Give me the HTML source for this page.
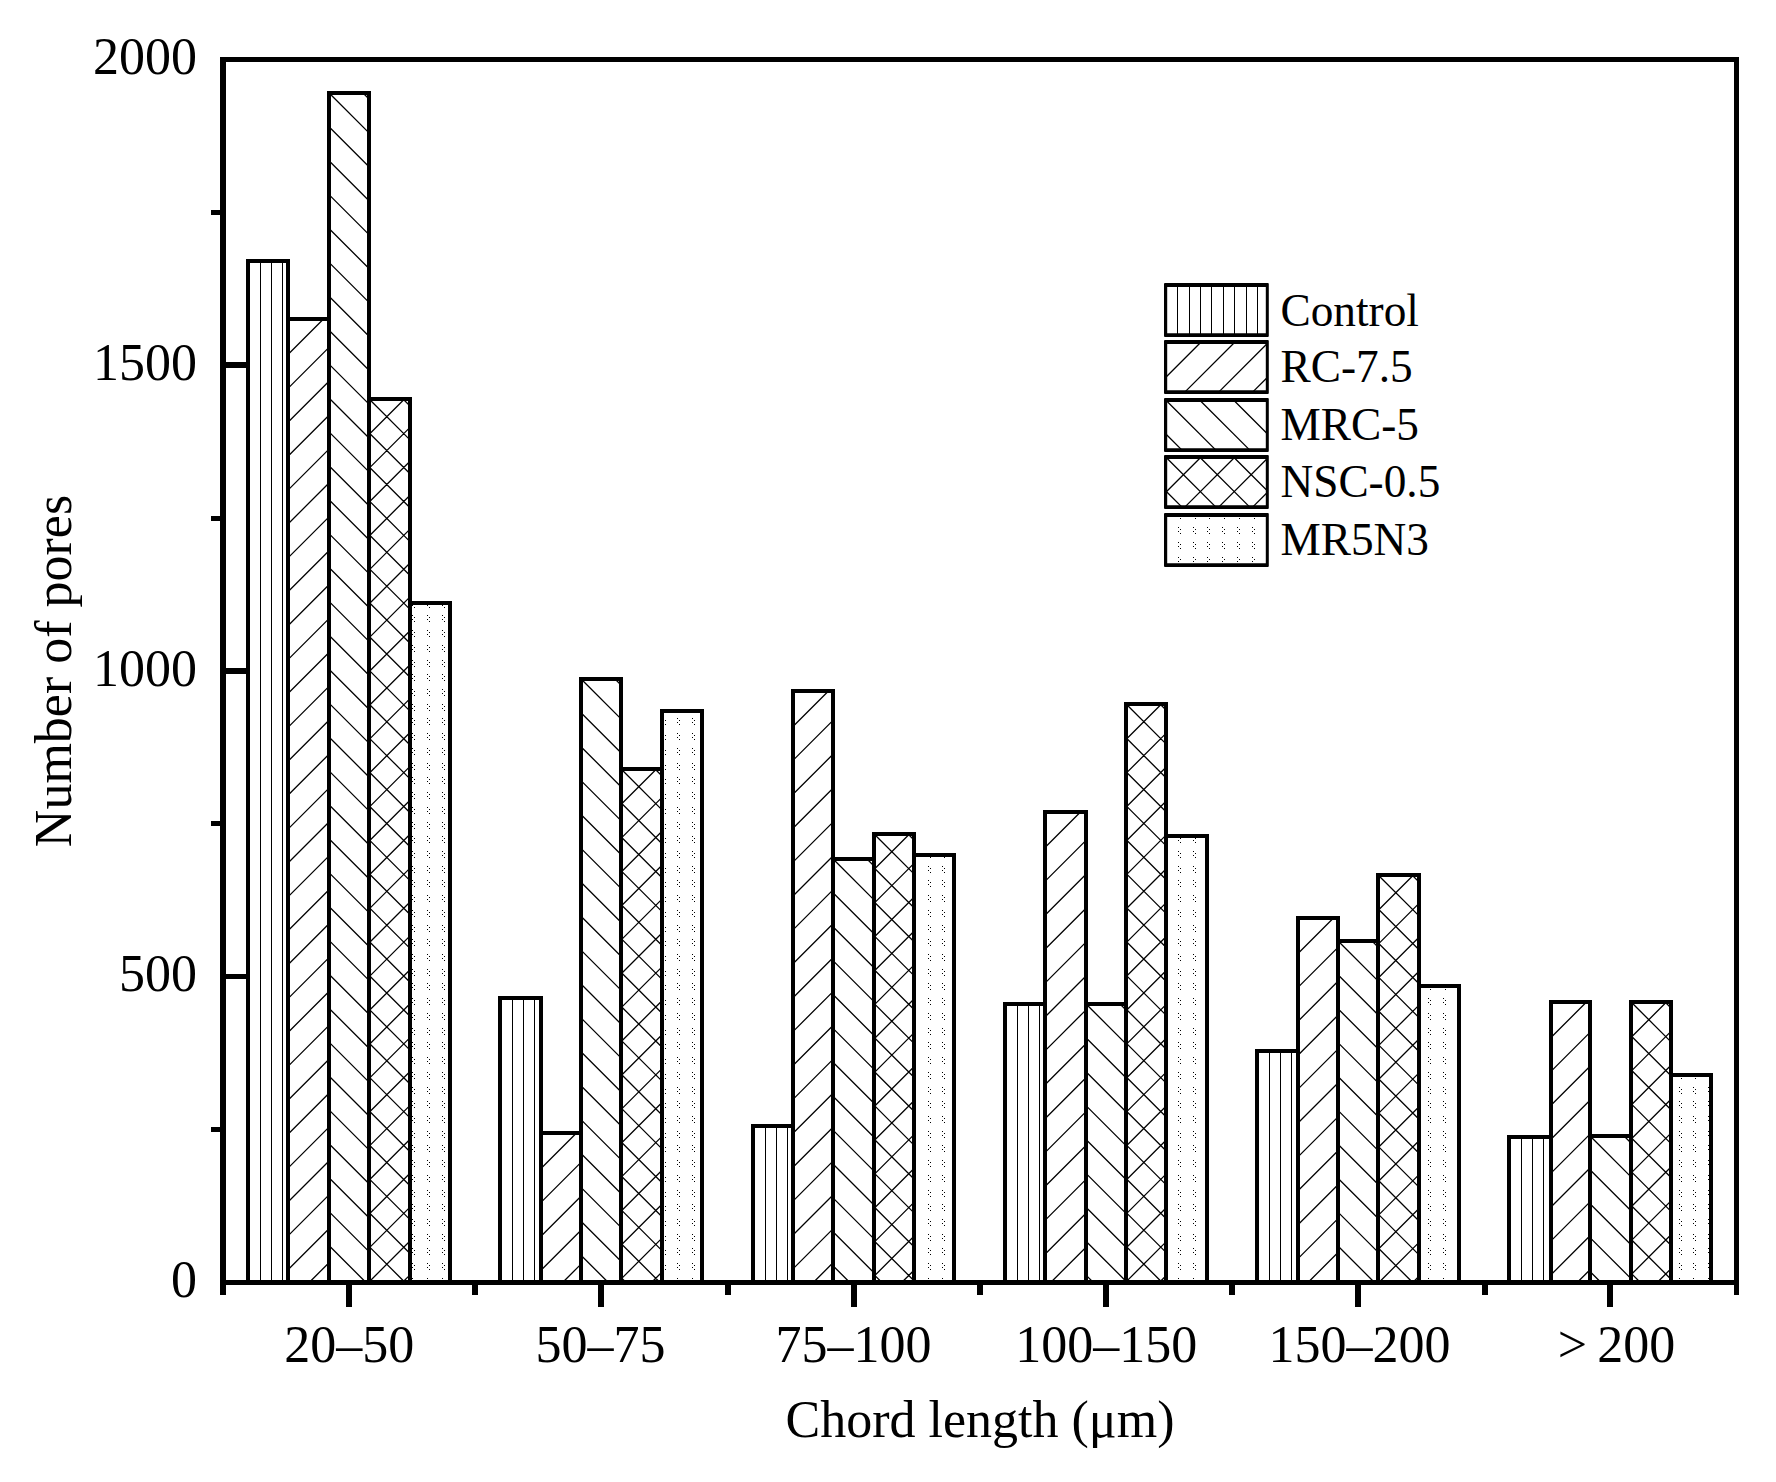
<!DOCTYPE html>
<html lang="en">
<head>
<meta charset="utf-8">
<title>Number of pores vs chord length</title>
<style>
html,body{margin:0;padding:0;background:#fff;}
body{width:1776px;height:1482px;overflow:hidden;}
svg{display:block;}
</style>
</head>
<body>
<svg width="1776" height="1482" viewBox="0 0 1776 1482">
<rect x="0" y="0" width="1776" height="1482" fill="#fff"/>
<g fill="#000" stroke="none" shape-rendering="crispEdges"><rect x="223" y="362" width="24.5" height="6"/><rect x="223" y="668" width="24.5" height="6"/><rect x="223" y="974" width="24.5" height="5"/><rect x="211" y="1127" width="12" height="5"/><rect x="211" y="821" width="12" height="5"/><rect x="211" y="516" width="12" height="5"/><rect x="211" y="210" width="12" height="5"/><rect x="346" y="1282.5" width="6" height="24.5"/><rect x="598" y="1282.5" width="6" height="24.5"/><rect x="851" y="1282.5" width="6" height="24.5"/><rect x="1103" y="1282.5" width="6" height="24.5"/><rect x="1355" y="1282.5" width="6" height="24.5"/><rect x="1607" y="1282.5" width="6" height="24.5"/><rect x="472" y="1282.5" width="5.5" height="12.5"/><rect x="725" y="1282.5" width="5.5" height="12.5"/><rect x="977" y="1282.5" width="5.5" height="12.5"/><rect x="1229" y="1282.5" width="5.5" height="12.5"/><rect x="1482" y="1282.5" width="5.5" height="12.5"/><rect x="220.3" y="1282.5" width="5.6" height="12.5"/><rect x="1734" y="1282.5" width="5" height="12.5"/></g>
<rect x="248" y="261" width="40" height="1021.5" fill="#fff" stroke="none"/><path d="M260.5 261V1282.5M271.5 261V1282.5M282.5 261V1282.5" stroke="#000" stroke-width="1" fill="none" shape-rendering="crispEdges"/><rect x="248" y="261" width="40" height="1021.5" fill="none" stroke="#000" stroke-width="3.8" shape-rendering="crispEdges"/>
<rect x="288" y="319" width="41" height="963.5" fill="#fff" stroke="none"/><path d="M288 354.5L323.5 319M288 388.4L329 347.4M288 422.3L329 381.3M288 456.2L329 415.2M288 490.1L329 449.1M288 524L329 483M288 557.9L329 516.9M288 591.8L329 550.8M288 625.7L329 584.7M288 659.6L329 618.6M288 693.5L329 652.5M288 727.4L329 686.4M288 761.3L329 720.3M288 795.2L329 754.2M288 829.1L329 788.1M288 863L329 822M288 896.9L329 855.9M288 930.8L329 889.8M288 964.7L329 923.7M288 998.6L329 957.6M288 1032.5L329 991.5M288 1066.4L329 1025.4M288 1100.3L329 1059.3M288 1134.2L329 1093.2M288 1168.1L329 1127.1M288 1202L329 1161M288 1235.9L329 1194.9M288 1269.8L329 1228.8M309.2 1282.5L329 1262.7" stroke="#000" stroke-width="1.3" fill="none"/><rect x="288" y="319" width="41" height="963.5" fill="none" stroke="#000" stroke-width="3.8" shape-rendering="crispEdges"/>
<rect x="329" y="93" width="40" height="1189.5" fill="#fff" stroke="none"/><path d="M363 93L369 99M329.1 93L369 132.9M329 126.8L369 166.8M329 160.7L369 200.7M329 194.6L369 234.6M329 228.5L369 268.5M329 262.4L369 302.4M329 296.3L369 336.3M329 330.2L369 370.2M329 364.1L369 404.1M329 398L369 438M329 431.9L369 471.9M329 465.8L369 505.8M329 499.7L369 539.7M329 533.6L369 573.6M329 567.5L369 607.5M329 601.4L369 641.4M329 635.3L369 675.3M329 669.2L369 709.2M329 703.1L369 743.1M329 737L369 777M329 770.9L369 810.9M329 804.8L369 844.8M329 838.7L369 878.7M329 872.6L369 912.6M329 906.5L369 946.5M329 940.4L369 980.4M329 974.3L369 1014.3M329 1008.2L369 1048.2M329 1042.1L369 1082.1M329 1076L369 1116M329 1109.9L369 1149.9M329 1143.8L369 1183.8M329 1177.7L369 1217.7M329 1211.6L369 1251.6M329 1245.5L366 1282.5M329 1279.4L332.1 1282.5" stroke="#000" stroke-width="1.3" fill="none"/><rect x="329" y="93" width="40" height="1189.5" fill="none" stroke="#000" stroke-width="3.8" shape-rendering="crispEdges"/>
<rect x="369" y="399" width="41" height="883.5" fill="#fff" stroke="none"/><path d="M369 434.5L404.5 399M369 468.4L410 427.4M369 502.3L410 461.3M369 536.2L410 495.2M369 570.1L410 529.1M369 604L410 563M369 637.9L410 596.9M369 671.8L410 630.8M369 705.7L410 664.7M369 739.6L410 698.6M369 773.5L410 732.5M369 807.4L410 766.4M369 841.3L410 800.3M369 875.2L410 834.2M369 909.1L410 868.1M369 943L410 902M369 976.9L410 935.9M369 1010.8L410 969.8M369 1044.7L410 1003.7M369 1078.6L410 1037.6M369 1112.5L410 1071.5M369 1146.4L410 1105.4M369 1180.3L410 1139.3M369 1214.2L410 1173.2M369 1248.1L410 1207.1M369 1282L410 1241M402.4 1282.5L410 1274.9M403 399L410 406M369.1 399L410 439.9M369 432.8L410 473.8M369 466.7L410 507.7M369 500.6L410 541.6M369 534.5L410 575.5M369 568.4L410 609.4M369 602.3L410 643.3M369 636.2L410 677.2M369 670.1L410 711.1M369 704L410 745M369 737.9L410 778.9M369 771.8L410 812.8M369 805.7L410 846.7M369 839.6L410 880.6M369 873.5L410 914.5M369 907.4L410 948.4M369 941.3L410 982.3M369 975.2L410 1016.2M369 1009.1L410 1050.1M369 1043L410 1084M369 1076.9L410 1117.9M369 1110.8L410 1151.8M369 1144.7L410 1185.7M369 1178.6L410 1219.6M369 1212.5L410 1253.5M369 1246.4L405.1 1282.5M369 1280.3L371.2 1282.5" stroke="#000" stroke-width="1.3" fill="none"/><rect x="369" y="399" width="41" height="883.5" fill="none" stroke="#000" stroke-width="3.8" shape-rendering="crispEdges"/>
<rect x="410" y="603" width="40" height="679.5" fill="#fff" stroke="none"/><path d="M412 605.5h1M414 607.5h1M412 615.5h1M414 617.5h1M412 619.5h1M414 621.5h1M412 630.5h1M414 632.5h1M412 634.5h1M414 636.5h1M412 645.5h1M414 647.5h1M412 649.5h1M414 651.5h1M412 660.5h1M414 662.5h1M412 664.5h1M414 666.5h1M412 674.5h1M414 676.5h1M412 678.5h1M414 680.5h1M412 689.5h1M414 691.5h1M412 693.5h1M414 695.5h1M412 704.5h1M414 706.5h1M412 708.5h1M414 710.5h1M412 718.5h1M414 720.5h1M412 722.5h1M414 724.5h1M412 733.5h1M414 735.5h1M412 737.5h1M414 739.5h1M412 748.5h1M414 750.5h1M412 752.5h1M414 754.5h1M412 763.5h1M414 765.5h1M412 767.5h1M414 769.5h1M412 777.5h1M414 779.5h1M412 781.5h1M414 783.5h1M412 792.5h1M414 794.5h1M412 796.5h1M414 798.5h1M412 807.5h1M414 809.5h1M412 811.5h1M414 813.5h1M412 822.5h1M414 824.5h1M412 826.5h1M414 828.5h1M412 836.5h1M414 838.5h1M412 840.5h1M414 842.5h1M412 851.5h1M414 853.5h1M412 855.5h1M414 857.5h1M412 866.5h1M414 868.5h1M412 870.5h1M414 872.5h1M412 880.5h1M414 882.5h1M412 884.5h1M414 886.5h1M412 895.5h1M414 897.5h1M412 899.5h1M414 901.5h1M412 910.5h1M414 912.5h1M412 914.5h1M414 916.5h1M412 925.5h1M414 927.5h1M412 929.5h1M414 931.5h1M412 939.5h1M414 941.5h1M412 943.5h1M414 945.5h1M412 954.5h1M414 956.5h1M412 958.5h1M414 960.5h1M412 969.5h1M414 971.5h1M412 973.5h1M414 975.5h1M412 983.5h1M414 985.5h1M412 987.5h1M414 989.5h1M412 998.5h1M414 1000.5h1M412 1002.5h1M414 1004.5h1M412 1013.5h1M414 1015.5h1M412 1017.5h1M414 1019.5h1M412 1028.5h1M414 1030.5h1M412 1032.5h1M414 1034.5h1M412 1042.5h1M414 1044.5h1M412 1046.5h1M414 1048.5h1M412 1057.5h1M414 1059.5h1M412 1061.5h1M414 1063.5h1M412 1072.5h1M414 1074.5h1M412 1076.5h1M414 1078.5h1M412 1087.5h1M414 1089.5h1M412 1091.5h1M414 1093.5h1M412 1101.5h1M414 1103.5h1M412 1105.5h1M414 1107.5h1M412 1116.5h1M414 1118.5h1M412 1120.5h1M414 1122.5h1M412 1131.5h1M414 1133.5h1M412 1135.5h1M414 1137.5h1M412 1145.5h1M414 1147.5h1M412 1149.5h1M414 1151.5h1M412 1160.5h1M414 1162.5h1M412 1164.5h1M414 1166.5h1M412 1175.5h1M414 1177.5h1M412 1179.5h1M414 1181.5h1M412 1190.5h1M414 1192.5h1M412 1194.5h1M414 1196.5h1M412 1204.5h1M414 1206.5h1M412 1208.5h1M414 1210.5h1M412 1219.5h1M414 1221.5h1M412 1223.5h1M414 1225.5h1M412 1234.5h1M414 1236.5h1M412 1238.5h1M414 1240.5h1M412 1248.5h1M414 1250.5h1M412 1252.5h1M414 1254.5h1M412 1263.5h1M414 1265.5h1M412 1267.5h1M414 1269.5h1M412 1278.5h1M414 1280.5h1M427 605.5h1M429 607.5h1M427 615.5h1M429 617.5h1M427 619.5h1M429 621.5h1M427 630.5h1M429 632.5h1M427 634.5h1M429 636.5h1M427 645.5h1M429 647.5h1M427 649.5h1M429 651.5h1M427 660.5h1M429 662.5h1M427 664.5h1M429 666.5h1M427 674.5h1M429 676.5h1M427 678.5h1M429 680.5h1M427 689.5h1M429 691.5h1M427 693.5h1M429 695.5h1M427 704.5h1M429 706.5h1M427 708.5h1M429 710.5h1M427 718.5h1M429 720.5h1M427 722.5h1M429 724.5h1M427 733.5h1M429 735.5h1M427 737.5h1M429 739.5h1M427 748.5h1M429 750.5h1M427 752.5h1M429 754.5h1M427 763.5h1M429 765.5h1M427 767.5h1M429 769.5h1M427 777.5h1M429 779.5h1M427 781.5h1M429 783.5h1M427 792.5h1M429 794.5h1M427 796.5h1M429 798.5h1M427 807.5h1M429 809.5h1M427 811.5h1M429 813.5h1M427 822.5h1M429 824.5h1M427 826.5h1M429 828.5h1M427 836.5h1M429 838.5h1M427 840.5h1M429 842.5h1M427 851.5h1M429 853.5h1M427 855.5h1M429 857.5h1M427 866.5h1M429 868.5h1M427 870.5h1M429 872.5h1M427 880.5h1M429 882.5h1M427 884.5h1M429 886.5h1M427 895.5h1M429 897.5h1M427 899.5h1M429 901.5h1M427 910.5h1M429 912.5h1M427 914.5h1M429 916.5h1M427 925.5h1M429 927.5h1M427 929.5h1M429 931.5h1M427 939.5h1M429 941.5h1M427 943.5h1M429 945.5h1M427 954.5h1M429 956.5h1M427 958.5h1M429 960.5h1M427 969.5h1M429 971.5h1M427 973.5h1M429 975.5h1M427 983.5h1M429 985.5h1M427 987.5h1M429 989.5h1M427 998.5h1M429 1000.5h1M427 1002.5h1M429 1004.5h1M427 1013.5h1M429 1015.5h1M427 1017.5h1M429 1019.5h1M427 1028.5h1M429 1030.5h1M427 1032.5h1M429 1034.5h1M427 1042.5h1M429 1044.5h1M427 1046.5h1M429 1048.5h1M427 1057.5h1M429 1059.5h1M427 1061.5h1M429 1063.5h1M427 1072.5h1M429 1074.5h1M427 1076.5h1M429 1078.5h1M427 1087.5h1M429 1089.5h1M427 1091.5h1M429 1093.5h1M427 1101.5h1M429 1103.5h1M427 1105.5h1M429 1107.5h1M427 1116.5h1M429 1118.5h1M427 1120.5h1M429 1122.5h1M427 1131.5h1M429 1133.5h1M427 1135.5h1M429 1137.5h1M427 1145.5h1M429 1147.5h1M427 1149.5h1M429 1151.5h1M427 1160.5h1M429 1162.5h1M427 1164.5h1M429 1166.5h1M427 1175.5h1M429 1177.5h1M427 1179.5h1M429 1181.5h1M427 1190.5h1M429 1192.5h1M427 1194.5h1M429 1196.5h1M427 1204.5h1M429 1206.5h1M427 1208.5h1M429 1210.5h1M427 1219.5h1M429 1221.5h1M427 1223.5h1M429 1225.5h1M427 1234.5h1M429 1236.5h1M427 1238.5h1M429 1240.5h1M427 1248.5h1M429 1250.5h1M427 1252.5h1M429 1254.5h1M427 1263.5h1M429 1265.5h1M427 1267.5h1M429 1269.5h1M427 1278.5h1M429 1280.5h1M442 605.5h1M444 607.5h1M442 615.5h1M444 617.5h1M442 619.5h1M444 621.5h1M442 630.5h1M444 632.5h1M442 634.5h1M444 636.5h1M442 645.5h1M444 647.5h1M442 649.5h1M444 651.5h1M442 660.5h1M444 662.5h1M442 664.5h1M444 666.5h1M442 674.5h1M444 676.5h1M442 678.5h1M444 680.5h1M442 689.5h1M444 691.5h1M442 693.5h1M444 695.5h1M442 704.5h1M444 706.5h1M442 708.5h1M444 710.5h1M442 718.5h1M444 720.5h1M442 722.5h1M444 724.5h1M442 733.5h1M444 735.5h1M442 737.5h1M444 739.5h1M442 748.5h1M444 750.5h1M442 752.5h1M444 754.5h1M442 763.5h1M444 765.5h1M442 767.5h1M444 769.5h1M442 777.5h1M444 779.5h1M442 781.5h1M444 783.5h1M442 792.5h1M444 794.5h1M442 796.5h1M444 798.5h1M442 807.5h1M444 809.5h1M442 811.5h1M444 813.5h1M442 822.5h1M444 824.5h1M442 826.5h1M444 828.5h1M442 836.5h1M444 838.5h1M442 840.5h1M444 842.5h1M442 851.5h1M444 853.5h1M442 855.5h1M444 857.5h1M442 866.5h1M444 868.5h1M442 870.5h1M444 872.5h1M442 880.5h1M444 882.5h1M442 884.5h1M444 886.5h1M442 895.5h1M444 897.5h1M442 899.5h1M444 901.5h1M442 910.5h1M444 912.5h1M442 914.5h1M444 916.5h1M442 925.5h1M444 927.5h1M442 929.5h1M444 931.5h1M442 939.5h1M444 941.5h1M442 943.5h1M444 945.5h1M442 954.5h1M444 956.5h1M442 958.5h1M444 960.5h1M442 969.5h1M444 971.5h1M442 973.5h1M444 975.5h1M442 983.5h1M444 985.5h1M442 987.5h1M444 989.5h1M442 998.5h1M444 1000.5h1M442 1002.5h1M444 1004.5h1M442 1013.5h1M444 1015.5h1M442 1017.5h1M444 1019.5h1M442 1028.5h1M444 1030.5h1M442 1032.5h1M444 1034.5h1M442 1042.5h1M444 1044.5h1M442 1046.5h1M444 1048.5h1M442 1057.5h1M444 1059.5h1M442 1061.5h1M444 1063.5h1M442 1072.5h1M444 1074.5h1M442 1076.5h1M444 1078.5h1M442 1087.5h1M444 1089.5h1M442 1091.5h1M444 1093.5h1M442 1101.5h1M444 1103.5h1M442 1105.5h1M444 1107.5h1M442 1116.5h1M444 1118.5h1M442 1120.5h1M444 1122.5h1M442 1131.5h1M444 1133.5h1M442 1135.5h1M444 1137.5h1M442 1145.5h1M444 1147.5h1M442 1149.5h1M444 1151.5h1M442 1160.5h1M444 1162.5h1M442 1164.5h1M444 1166.5h1M442 1175.5h1M444 1177.5h1M442 1179.5h1M444 1181.5h1M442 1190.5h1M444 1192.5h1M442 1194.5h1M444 1196.5h1M442 1204.5h1M444 1206.5h1M442 1208.5h1M444 1210.5h1M442 1219.5h1M444 1221.5h1M442 1223.5h1M444 1225.5h1M442 1234.5h1M444 1236.5h1M442 1238.5h1M444 1240.5h1M442 1248.5h1M444 1250.5h1M442 1252.5h1M444 1254.5h1M442 1263.5h1M444 1265.5h1M442 1267.5h1M444 1269.5h1M442 1278.5h1M444 1280.5h1" stroke="#000" stroke-width="1" fill="none" shape-rendering="crispEdges"/><rect x="410" y="603" width="40" height="679.5" fill="none" stroke="#000" stroke-width="3.8" shape-rendering="crispEdges"/>
<rect x="500" y="998" width="41" height="284.5" fill="#fff" stroke="none"/><path d="M512.5 998V1282.5M523.5 998V1282.5M534.5 998V1282.5" stroke="#000" stroke-width="1" fill="none" shape-rendering="crispEdges"/><rect x="500" y="998" width="41" height="284.5" fill="none" stroke="#000" stroke-width="3.8" shape-rendering="crispEdges"/>
<rect x="541" y="1133" width="40" height="149.5" fill="#fff" stroke="none"/><path d="M541 1168.5L576.5 1133M541 1202.4L581 1162.4M541 1236.3L581 1196.3M541 1270.2L581 1230.2M562.6 1282.5L581 1264.1" stroke="#000" stroke-width="1.3" fill="none"/><rect x="541" y="1133" width="40" height="149.5" fill="none" stroke="#000" stroke-width="3.8" shape-rendering="crispEdges"/>
<rect x="581" y="679" width="40" height="603.5" fill="#fff" stroke="none"/><path d="M615 679L621 685M581.1 679L621 718.9M581 712.8L621 752.8M581 746.7L621 786.7M581 780.6L621 820.6M581 814.5L621 854.5M581 848.4L621 888.4M581 882.3L621 922.3M581 916.2L621 956.2M581 950.1L621 990.1M581 984L621 1024M581 1017.9L621 1057.9M581 1051.8L621 1091.8M581 1085.7L621 1125.7M581 1119.6L621 1159.6M581 1153.5L621 1193.5M581 1187.4L621 1227.4M581 1221.3L621 1261.3M581 1255.2L608.3 1282.5" stroke="#000" stroke-width="1.3" fill="none"/><rect x="581" y="679" width="40" height="603.5" fill="none" stroke="#000" stroke-width="3.8" shape-rendering="crispEdges"/>
<rect x="621" y="769" width="41" height="513.5" fill="#fff" stroke="none"/><path d="M621 804.5L656.5 769M621 838.4L662 797.4M621 872.3L662 831.3M621 906.2L662 865.2M621 940.1L662 899.1M621 974L662 933M621 1007.9L662 966.9M621 1041.8L662 1000.8M621 1075.7L662 1034.7M621 1109.6L662 1068.6M621 1143.5L662 1102.5M621 1177.4L662 1136.4M621 1211.3L662 1170.3M621 1245.2L662 1204.2M621 1279.1L662 1238.1M651.5 1282.5L662 1272M655 769L662 776M621.1 769L662 809.9M621 802.8L662 843.8M621 836.7L662 877.7M621 870.6L662 911.6M621 904.5L662 945.5M621 938.4L662 979.4M621 972.3L662 1013.3M621 1006.2L662 1047.2M621 1040.1L662 1081.1M621 1074L662 1115M621 1107.9L662 1148.9M621 1141.8L662 1182.8M621 1175.7L662 1216.7M621 1209.6L662 1250.6M621 1243.5L660 1282.5M621 1277.4L626.1 1282.5" stroke="#000" stroke-width="1.3" fill="none"/><rect x="621" y="769" width="41" height="513.5" fill="none" stroke="#000" stroke-width="3.8" shape-rendering="crispEdges"/>
<rect x="662" y="711" width="40" height="571.5" fill="#fff" stroke="none"/><path d="M665 720.5h1M665 724.5h1M665 735.5h1M665 739.5h1M665 750.5h1M665 754.5h1M665 765.5h1M665 769.5h1M665 779.5h1M665 783.5h1M665 794.5h1M665 798.5h1M665 809.5h1M665 813.5h1M665 824.5h1M665 828.5h1M665 838.5h1M665 842.5h1M665 853.5h1M665 857.5h1M665 868.5h1M665 872.5h1M665 882.5h1M665 886.5h1M665 897.5h1M665 901.5h1M665 912.5h1M665 916.5h1M665 927.5h1M665 931.5h1M665 941.5h1M665 945.5h1M665 956.5h1M665 960.5h1M665 971.5h1M665 975.5h1M665 985.5h1M665 989.5h1M665 1000.5h1M665 1004.5h1M665 1015.5h1M665 1019.5h1M665 1030.5h1M665 1034.5h1M665 1044.5h1M665 1048.5h1M665 1059.5h1M665 1063.5h1M665 1074.5h1M665 1078.5h1M665 1089.5h1M665 1093.5h1M665 1103.5h1M665 1107.5h1M665 1118.5h1M665 1122.5h1M665 1133.5h1M665 1137.5h1M665 1147.5h1M665 1151.5h1M665 1162.5h1M665 1166.5h1M665 1177.5h1M665 1181.5h1M665 1192.5h1M665 1196.5h1M665 1206.5h1M665 1210.5h1M665 1221.5h1M665 1225.5h1M665 1236.5h1M665 1240.5h1M665 1250.5h1M665 1254.5h1M665 1265.5h1M665 1269.5h1M665 1280.5h1M677 718.5h1M679 720.5h1M677 722.5h1M679 724.5h1M677 733.5h1M679 735.5h1M677 737.5h1M679 739.5h1M677 748.5h1M679 750.5h1M677 752.5h1M679 754.5h1M677 763.5h1M679 765.5h1M677 767.5h1M679 769.5h1M677 777.5h1M679 779.5h1M677 781.5h1M679 783.5h1M677 792.5h1M679 794.5h1M677 796.5h1M679 798.5h1M677 807.5h1M679 809.5h1M677 811.5h1M679 813.5h1M677 822.5h1M679 824.5h1M677 826.5h1M679 828.5h1M677 836.5h1M679 838.5h1M677 840.5h1M679 842.5h1M677 851.5h1M679 853.5h1M677 855.5h1M679 857.5h1M677 866.5h1M679 868.5h1M677 870.5h1M679 872.5h1M677 880.5h1M679 882.5h1M677 884.5h1M679 886.5h1M677 895.5h1M679 897.5h1M677 899.5h1M679 901.5h1M677 910.5h1M679 912.5h1M677 914.5h1M679 916.5h1M677 925.5h1M679 927.5h1M677 929.5h1M679 931.5h1M677 939.5h1M679 941.5h1M677 943.5h1M679 945.5h1M677 954.5h1M679 956.5h1M677 958.5h1M679 960.5h1M677 969.5h1M679 971.5h1M677 973.5h1M679 975.5h1M677 983.5h1M679 985.5h1M677 987.5h1M679 989.5h1M677 998.5h1M679 1000.5h1M677 1002.5h1M679 1004.5h1M677 1013.5h1M679 1015.5h1M677 1017.5h1M679 1019.5h1M677 1028.5h1M679 1030.5h1M677 1032.5h1M679 1034.5h1M677 1042.5h1M679 1044.5h1M677 1046.5h1M679 1048.5h1M677 1057.5h1M679 1059.5h1M677 1061.5h1M679 1063.5h1M677 1072.5h1M679 1074.5h1M677 1076.5h1M679 1078.5h1M677 1087.5h1M679 1089.5h1M677 1091.5h1M679 1093.5h1M677 1101.5h1M679 1103.5h1M677 1105.5h1M679 1107.5h1M677 1116.5h1M679 1118.5h1M677 1120.5h1M679 1122.5h1M677 1131.5h1M679 1133.5h1M677 1135.5h1M679 1137.5h1M677 1145.5h1M679 1147.5h1M677 1149.5h1M679 1151.5h1M677 1160.5h1M679 1162.5h1M677 1164.5h1M679 1166.5h1M677 1175.5h1M679 1177.5h1M677 1179.5h1M679 1181.5h1M677 1190.5h1M679 1192.5h1M677 1194.5h1M679 1196.5h1M677 1204.5h1M679 1206.5h1M677 1208.5h1M679 1210.5h1M677 1219.5h1M679 1221.5h1M677 1223.5h1M679 1225.5h1M677 1234.5h1M679 1236.5h1M677 1238.5h1M679 1240.5h1M677 1248.5h1M679 1250.5h1M677 1252.5h1M679 1254.5h1M677 1263.5h1M679 1265.5h1M677 1267.5h1M679 1269.5h1M677 1278.5h1M679 1280.5h1M692 718.5h1M694 720.5h1M692 722.5h1M694 724.5h1M692 733.5h1M694 735.5h1M692 737.5h1M694 739.5h1M692 748.5h1M694 750.5h1M692 752.5h1M694 754.5h1M692 763.5h1M694 765.5h1M692 767.5h1M694 769.5h1M692 777.5h1M694 779.5h1M692 781.5h1M694 783.5h1M692 792.5h1M694 794.5h1M692 796.5h1M694 798.5h1M692 807.5h1M694 809.5h1M692 811.5h1M694 813.5h1M692 822.5h1M694 824.5h1M692 826.5h1M694 828.5h1M692 836.5h1M694 838.5h1M692 840.5h1M694 842.5h1M692 851.5h1M694 853.5h1M692 855.5h1M694 857.5h1M692 866.5h1M694 868.5h1M692 870.5h1M694 872.5h1M692 880.5h1M694 882.5h1M692 884.5h1M694 886.5h1M692 895.5h1M694 897.5h1M692 899.5h1M694 901.5h1M692 910.5h1M694 912.5h1M692 914.5h1M694 916.5h1M692 925.5h1M694 927.5h1M692 929.5h1M694 931.5h1M692 939.5h1M694 941.5h1M692 943.5h1M694 945.5h1M692 954.5h1M694 956.5h1M692 958.5h1M694 960.5h1M692 969.5h1M694 971.5h1M692 973.5h1M694 975.5h1M692 983.5h1M694 985.5h1M692 987.5h1M694 989.5h1M692 998.5h1M694 1000.5h1M692 1002.5h1M694 1004.5h1M692 1013.5h1M694 1015.5h1M692 1017.5h1M694 1019.5h1M692 1028.5h1M694 1030.5h1M692 1032.5h1M694 1034.5h1M692 1042.5h1M694 1044.5h1M692 1046.5h1M694 1048.5h1M692 1057.5h1M694 1059.5h1M692 1061.5h1M694 1063.5h1M692 1072.5h1M694 1074.5h1M692 1076.5h1M694 1078.5h1M692 1087.5h1M694 1089.5h1M692 1091.5h1M694 1093.5h1M692 1101.5h1M694 1103.5h1M692 1105.5h1M694 1107.5h1M692 1116.5h1M694 1118.5h1M692 1120.5h1M694 1122.5h1M692 1131.5h1M694 1133.5h1M692 1135.5h1M694 1137.5h1M692 1145.5h1M694 1147.5h1M692 1149.5h1M694 1151.5h1M692 1160.5h1M694 1162.5h1M692 1164.5h1M694 1166.5h1M692 1175.5h1M694 1177.5h1M692 1179.5h1M694 1181.5h1M692 1190.5h1M694 1192.5h1M692 1194.5h1M694 1196.5h1M692 1204.5h1M694 1206.5h1M692 1208.5h1M694 1210.5h1M692 1219.5h1M694 1221.5h1M692 1223.5h1M694 1225.5h1M692 1234.5h1M694 1236.5h1M692 1238.5h1M694 1240.5h1M692 1248.5h1M694 1250.5h1M692 1252.5h1M694 1254.5h1M692 1263.5h1M694 1265.5h1M692 1267.5h1M694 1269.5h1M692 1278.5h1M694 1280.5h1" stroke="#000" stroke-width="1" fill="none" shape-rendering="crispEdges"/><rect x="662" y="711" width="40" height="571.5" fill="none" stroke="#000" stroke-width="3.8" shape-rendering="crispEdges"/>
<rect x="753" y="1126" width="40" height="156.5" fill="#fff" stroke="none"/><path d="M765.5 1126V1282.5M776.5 1126V1282.5M787.5 1126V1282.5" stroke="#000" stroke-width="1" fill="none" shape-rendering="crispEdges"/><rect x="753" y="1126" width="40" height="156.5" fill="none" stroke="#000" stroke-width="3.8" shape-rendering="crispEdges"/>
<rect x="793" y="691" width="40" height="591.5" fill="#fff" stroke="none"/><path d="M793 726.5L828.5 691M793 760.4L833 720.4M793 794.3L833 754.3M793 828.2L833 788.2M793 862.1L833 822.1M793 896L833 856M793 929.9L833 889.9M793 963.8L833 923.8M793 997.7L833 957.7M793 1031.6L833 991.6M793 1065.5L833 1025.5M793 1099.4L833 1059.4M793 1133.3L833 1093.3M793 1167.2L833 1127.2M793 1201.1L833 1161.1M793 1235L833 1195M793 1268.9L833 1228.9M813.3 1282.5L833 1262.8" stroke="#000" stroke-width="1.3" fill="none"/><rect x="793" y="691" width="40" height="591.5" fill="none" stroke="#000" stroke-width="3.8" shape-rendering="crispEdges"/>
<rect x="833" y="859" width="41" height="423.5" fill="#fff" stroke="none"/><path d="M867 859L874 866M833.1 859L874 899.9M833 892.8L874 933.8M833 926.7L874 967.7M833 960.6L874 1001.6M833 994.5L874 1035.5M833 1028.4L874 1069.4M833 1062.3L874 1103.3M833 1096.2L874 1137.2M833 1130.1L874 1171.1M833 1164L874 1205M833 1197.9L874 1238.9M833 1231.8L874 1272.8M833 1265.7L849.8 1282.5" stroke="#000" stroke-width="1.3" fill="none"/><rect x="833" y="859" width="41" height="423.5" fill="none" stroke="#000" stroke-width="3.8" shape-rendering="crispEdges"/>
<rect x="874" y="834" width="40" height="448.5" fill="#fff" stroke="none"/><path d="M874 869.5L909.5 834M874 903.4L914 863.4M874 937.3L914 897.3M874 971.2L914 931.2M874 1005.1L914 965.1M874 1039L914 999M874 1072.9L914 1032.9M874 1106.8L914 1066.8M874 1140.7L914 1100.7M874 1174.6L914 1134.6M874 1208.5L914 1168.5M874 1242.4L914 1202.4M874 1276.3L914 1236.3M901.7 1282.5L914 1270.2M908 834L914 840M874.1 834L914 873.9M874 867.8L914 907.8M874 901.7L914 941.7M874 935.6L914 975.6M874 969.5L914 1009.5M874 1003.4L914 1043.4M874 1037.3L914 1077.3M874 1071.2L914 1111.2M874 1105.1L914 1145.1M874 1139L914 1179M874 1172.9L914 1212.9M874 1206.8L914 1246.8M874 1240.7L914 1280.7M874 1274.6L881.9 1282.5" stroke="#000" stroke-width="1.3" fill="none"/><rect x="874" y="834" width="40" height="448.5" fill="none" stroke="#000" stroke-width="3.8" shape-rendering="crispEdges"/>
<rect x="914" y="855" width="40" height="427.5" fill="#fff" stroke="none"/><path d="M930 857.5h1M928 866.5h1M930 868.5h1M928 870.5h1M930 872.5h1M928 880.5h1M930 882.5h1M928 884.5h1M930 886.5h1M928 895.5h1M930 897.5h1M928 899.5h1M930 901.5h1M928 910.5h1M930 912.5h1M928 914.5h1M930 916.5h1M928 925.5h1M930 927.5h1M928 929.5h1M930 931.5h1M928 939.5h1M930 941.5h1M928 943.5h1M930 945.5h1M928 954.5h1M930 956.5h1M928 958.5h1M930 960.5h1M928 969.5h1M930 971.5h1M928 973.5h1M930 975.5h1M928 983.5h1M930 985.5h1M928 987.5h1M930 989.5h1M928 998.5h1M930 1000.5h1M928 1002.5h1M930 1004.5h1M928 1013.5h1M930 1015.5h1M928 1017.5h1M930 1019.5h1M928 1028.5h1M930 1030.5h1M928 1032.5h1M930 1034.5h1M928 1042.5h1M930 1044.5h1M928 1046.5h1M930 1048.5h1M928 1057.5h1M930 1059.5h1M928 1061.5h1M930 1063.5h1M928 1072.5h1M930 1074.5h1M928 1076.5h1M930 1078.5h1M928 1087.5h1M930 1089.5h1M928 1091.5h1M930 1093.5h1M928 1101.5h1M930 1103.5h1M928 1105.5h1M930 1107.5h1M928 1116.5h1M930 1118.5h1M928 1120.5h1M930 1122.5h1M928 1131.5h1M930 1133.5h1M928 1135.5h1M930 1137.5h1M928 1145.5h1M930 1147.5h1M928 1149.5h1M930 1151.5h1M928 1160.5h1M930 1162.5h1M928 1164.5h1M930 1166.5h1M928 1175.5h1M930 1177.5h1M928 1179.5h1M930 1181.5h1M928 1190.5h1M930 1192.5h1M928 1194.5h1M930 1196.5h1M928 1204.5h1M930 1206.5h1M928 1208.5h1M930 1210.5h1M928 1219.5h1M930 1221.5h1M928 1223.5h1M930 1225.5h1M928 1234.5h1M930 1236.5h1M928 1238.5h1M930 1240.5h1M928 1248.5h1M930 1250.5h1M928 1252.5h1M930 1254.5h1M928 1263.5h1M930 1265.5h1M928 1267.5h1M930 1269.5h1M928 1278.5h1M930 1280.5h1M944 857.5h1M942 866.5h1M944 868.5h1M942 870.5h1M944 872.5h1M942 880.5h1M944 882.5h1M942 884.5h1M944 886.5h1M942 895.5h1M944 897.5h1M942 899.5h1M944 901.5h1M942 910.5h1M944 912.5h1M942 914.5h1M944 916.5h1M942 925.5h1M944 927.5h1M942 929.5h1M944 931.5h1M942 939.5h1M944 941.5h1M942 943.5h1M944 945.5h1M942 954.5h1M944 956.5h1M942 958.5h1M944 960.5h1M942 969.5h1M944 971.5h1M942 973.5h1M944 975.5h1M942 983.5h1M944 985.5h1M942 987.5h1M944 989.5h1M942 998.5h1M944 1000.5h1M942 1002.5h1M944 1004.5h1M942 1013.5h1M944 1015.5h1M942 1017.5h1M944 1019.5h1M942 1028.5h1M944 1030.5h1M942 1032.5h1M944 1034.5h1M942 1042.5h1M944 1044.5h1M942 1046.5h1M944 1048.5h1M942 1057.5h1M944 1059.5h1M942 1061.5h1M944 1063.5h1M942 1072.5h1M944 1074.5h1M942 1076.5h1M944 1078.5h1M942 1087.5h1M944 1089.5h1M942 1091.5h1M944 1093.5h1M942 1101.5h1M944 1103.5h1M942 1105.5h1M944 1107.5h1M942 1116.5h1M944 1118.5h1M942 1120.5h1M944 1122.5h1M942 1131.5h1M944 1133.5h1M942 1135.5h1M944 1137.5h1M942 1145.5h1M944 1147.5h1M942 1149.5h1M944 1151.5h1M942 1160.5h1M944 1162.5h1M942 1164.5h1M944 1166.5h1M942 1175.5h1M944 1177.5h1M942 1179.5h1M944 1181.5h1M942 1190.5h1M944 1192.5h1M942 1194.5h1M944 1196.5h1M942 1204.5h1M944 1206.5h1M942 1208.5h1M944 1210.5h1M942 1219.5h1M944 1221.5h1M942 1223.5h1M944 1225.5h1M942 1234.5h1M944 1236.5h1M942 1238.5h1M944 1240.5h1M942 1248.5h1M944 1250.5h1M942 1252.5h1M944 1254.5h1M942 1263.5h1M944 1265.5h1M942 1267.5h1M944 1269.5h1M942 1278.5h1M944 1280.5h1" stroke="#000" stroke-width="1" fill="none" shape-rendering="crispEdges"/><rect x="914" y="855" width="40" height="427.5" fill="none" stroke="#000" stroke-width="3.8" shape-rendering="crispEdges"/>
<rect x="1005" y="1004" width="40" height="278.5" fill="#fff" stroke="none"/><path d="M1017.5 1004V1282.5M1028.5 1004V1282.5M1039.5 1004V1282.5" stroke="#000" stroke-width="1" fill="none" shape-rendering="crispEdges"/><rect x="1005" y="1004" width="40" height="278.5" fill="none" stroke="#000" stroke-width="3.8" shape-rendering="crispEdges"/>
<rect x="1045" y="812" width="41" height="470.5" fill="#fff" stroke="none"/><path d="M1045 847.5L1080.5 812M1045 881.4L1086 840.4M1045 915.3L1086 874.3M1045 949.2L1086 908.2M1045 983.1L1086 942.1M1045 1017L1086 976M1045 1050.9L1086 1009.9M1045 1084.8L1086 1043.8M1045 1118.7L1086 1077.7M1045 1152.6L1086 1111.6M1045 1186.5L1086 1145.5M1045 1220.4L1086 1179.4M1045 1254.3L1086 1213.3M1050.7 1282.5L1086 1247.2M1084.6 1282.5L1086 1281.1" stroke="#000" stroke-width="1.3" fill="none"/><rect x="1045" y="812" width="41" height="470.5" fill="none" stroke="#000" stroke-width="3.8" shape-rendering="crispEdges"/>
<rect x="1086" y="1004" width="40" height="278.5" fill="#fff" stroke="none"/><path d="M1120 1004L1126 1010M1086.1 1004L1126 1043.9M1086 1037.8L1126 1077.8M1086 1071.7L1126 1111.7M1086 1105.6L1126 1145.6M1086 1139.5L1126 1179.5M1086 1173.4L1126 1213.4M1086 1207.3L1126 1247.3M1086 1241.2L1126 1281.2M1086 1275.1L1093.4 1282.5" stroke="#000" stroke-width="1.3" fill="none"/><rect x="1086" y="1004" width="40" height="278.5" fill="none" stroke="#000" stroke-width="3.8" shape-rendering="crispEdges"/>
<rect x="1126" y="704" width="40" height="578.5" fill="#fff" stroke="none"/><path d="M1126 739.5L1161.5 704M1126 773.4L1166 733.4M1126 807.3L1166 767.3M1126 841.2L1166 801.2M1126 875.1L1166 835.1M1126 909L1166 869M1126 942.9L1166 902.9M1126 976.8L1166 936.8M1126 1010.7L1166 970.7M1126 1044.6L1166 1004.6M1126 1078.5L1166 1038.5M1126 1112.4L1166 1072.4M1126 1146.3L1166 1106.3M1126 1180.2L1166 1140.2M1126 1214.1L1166 1174.1M1126 1248L1166 1208M1126 1281.9L1166 1241.9M1159.3 1282.5L1166 1275.8M1160 704L1166 710M1126.1 704L1166 743.9M1126 737.8L1166 777.8M1126 771.7L1166 811.7M1126 805.6L1166 845.6M1126 839.5L1166 879.5M1126 873.4L1166 913.4M1126 907.3L1166 947.3M1126 941.2L1166 981.2M1126 975.1L1166 1015.1M1126 1009L1166 1049M1126 1042.9L1166 1082.9M1126 1076.8L1166 1116.8M1126 1110.7L1166 1150.7M1126 1144.6L1166 1184.6M1126 1178.5L1166 1218.5M1126 1212.4L1166 1252.4M1126 1246.3L1162.2 1282.5M1126 1280.2L1128.3 1282.5" stroke="#000" stroke-width="1.3" fill="none"/><rect x="1126" y="704" width="40" height="578.5" fill="none" stroke="#000" stroke-width="3.8" shape-rendering="crispEdges"/>
<rect x="1166" y="836" width="41" height="446.5" fill="#fff" stroke="none"/><path d="M1180 838.5h1M1178 840.5h1M1180 842.5h1M1178 851.5h1M1180 853.5h1M1178 855.5h1M1180 857.5h1M1178 866.5h1M1180 868.5h1M1178 870.5h1M1180 872.5h1M1178 880.5h1M1180 882.5h1M1178 884.5h1M1180 886.5h1M1178 895.5h1M1180 897.5h1M1178 899.5h1M1180 901.5h1M1178 910.5h1M1180 912.5h1M1178 914.5h1M1180 916.5h1M1178 925.5h1M1180 927.5h1M1178 929.5h1M1180 931.5h1M1178 939.5h1M1180 941.5h1M1178 943.5h1M1180 945.5h1M1178 954.5h1M1180 956.5h1M1178 958.5h1M1180 960.5h1M1178 969.5h1M1180 971.5h1M1178 973.5h1M1180 975.5h1M1178 983.5h1M1180 985.5h1M1178 987.5h1M1180 989.5h1M1178 998.5h1M1180 1000.5h1M1178 1002.5h1M1180 1004.5h1M1178 1013.5h1M1180 1015.5h1M1178 1017.5h1M1180 1019.5h1M1178 1028.5h1M1180 1030.5h1M1178 1032.5h1M1180 1034.5h1M1178 1042.5h1M1180 1044.5h1M1178 1046.5h1M1180 1048.5h1M1178 1057.5h1M1180 1059.5h1M1178 1061.5h1M1180 1063.5h1M1178 1072.5h1M1180 1074.5h1M1178 1076.5h1M1180 1078.5h1M1178 1087.5h1M1180 1089.5h1M1178 1091.5h1M1180 1093.5h1M1178 1101.5h1M1180 1103.5h1M1178 1105.5h1M1180 1107.5h1M1178 1116.5h1M1180 1118.5h1M1178 1120.5h1M1180 1122.5h1M1178 1131.5h1M1180 1133.5h1M1178 1135.5h1M1180 1137.5h1M1178 1145.5h1M1180 1147.5h1M1178 1149.5h1M1180 1151.5h1M1178 1160.5h1M1180 1162.5h1M1178 1164.5h1M1180 1166.5h1M1178 1175.5h1M1180 1177.5h1M1178 1179.5h1M1180 1181.5h1M1178 1190.5h1M1180 1192.5h1M1178 1194.5h1M1180 1196.5h1M1178 1204.5h1M1180 1206.5h1M1178 1208.5h1M1180 1210.5h1M1178 1219.5h1M1180 1221.5h1M1178 1223.5h1M1180 1225.5h1M1178 1234.5h1M1180 1236.5h1M1178 1238.5h1M1180 1240.5h1M1178 1248.5h1M1180 1250.5h1M1178 1252.5h1M1180 1254.5h1M1178 1263.5h1M1180 1265.5h1M1178 1267.5h1M1180 1269.5h1M1178 1278.5h1M1180 1280.5h1M1195 838.5h1M1193 840.5h1M1195 842.5h1M1193 851.5h1M1195 853.5h1M1193 855.5h1M1195 857.5h1M1193 866.5h1M1195 868.5h1M1193 870.5h1M1195 872.5h1M1193 880.5h1M1195 882.5h1M1193 884.5h1M1195 886.5h1M1193 895.5h1M1195 897.5h1M1193 899.5h1M1195 901.5h1M1193 910.5h1M1195 912.5h1M1193 914.5h1M1195 916.5h1M1193 925.5h1M1195 927.5h1M1193 929.5h1M1195 931.5h1M1193 939.5h1M1195 941.5h1M1193 943.5h1M1195 945.5h1M1193 954.5h1M1195 956.5h1M1193 958.5h1M1195 960.5h1M1193 969.5h1M1195 971.5h1M1193 973.5h1M1195 975.5h1M1193 983.5h1M1195 985.5h1M1193 987.5h1M1195 989.5h1M1193 998.5h1M1195 1000.5h1M1193 1002.5h1M1195 1004.5h1M1193 1013.5h1M1195 1015.5h1M1193 1017.5h1M1195 1019.5h1M1193 1028.5h1M1195 1030.5h1M1193 1032.5h1M1195 1034.5h1M1193 1042.5h1M1195 1044.5h1M1193 1046.5h1M1195 1048.5h1M1193 1057.5h1M1195 1059.5h1M1193 1061.5h1M1195 1063.5h1M1193 1072.5h1M1195 1074.5h1M1193 1076.5h1M1195 1078.5h1M1193 1087.5h1M1195 1089.5h1M1193 1091.5h1M1195 1093.5h1M1193 1101.5h1M1195 1103.5h1M1193 1105.5h1M1195 1107.5h1M1193 1116.5h1M1195 1118.5h1M1193 1120.5h1M1195 1122.5h1M1193 1131.5h1M1195 1133.5h1M1193 1135.5h1M1195 1137.5h1M1193 1145.5h1M1195 1147.5h1M1193 1149.5h1M1195 1151.5h1M1193 1160.5h1M1195 1162.5h1M1193 1164.5h1M1195 1166.5h1M1193 1175.5h1M1195 1177.5h1M1193 1179.5h1M1195 1181.5h1M1193 1190.5h1M1195 1192.5h1M1193 1194.5h1M1195 1196.5h1M1193 1204.5h1M1195 1206.5h1M1193 1208.5h1M1195 1210.5h1M1193 1219.5h1M1195 1221.5h1M1193 1223.5h1M1195 1225.5h1M1193 1234.5h1M1195 1236.5h1M1193 1238.5h1M1195 1240.5h1M1193 1248.5h1M1195 1250.5h1M1193 1252.5h1M1195 1254.5h1M1193 1263.5h1M1195 1265.5h1M1193 1267.5h1M1195 1269.5h1M1193 1278.5h1M1195 1280.5h1" stroke="#000" stroke-width="1" fill="none" shape-rendering="crispEdges"/><rect x="1166" y="836" width="41" height="446.5" fill="none" stroke="#000" stroke-width="3.8" shape-rendering="crispEdges"/>
<rect x="1257" y="1051" width="41" height="231.5" fill="#fff" stroke="none"/><path d="M1269.5 1051V1282.5M1280.5 1051V1282.5M1291.5 1051V1282.5" stroke="#000" stroke-width="1" fill="none" shape-rendering="crispEdges"/><rect x="1257" y="1051" width="41" height="231.5" fill="none" stroke="#000" stroke-width="3.8" shape-rendering="crispEdges"/>
<rect x="1298" y="918" width="40" height="364.5" fill="#fff" stroke="none"/><path d="M1298 953.5L1333.5 918M1298 987.4L1338 947.4M1298 1021.3L1338 981.3M1298 1055.2L1338 1015.2M1298 1089.1L1338 1049.1M1298 1123L1338 1083M1298 1156.9L1338 1116.9M1298 1190.8L1338 1150.8M1298 1224.7L1338 1184.7M1298 1258.6L1338 1218.6M1308 1282.5L1338 1252.5" stroke="#000" stroke-width="1.3" fill="none"/><rect x="1298" y="918" width="40" height="364.5" fill="none" stroke="#000" stroke-width="3.8" shape-rendering="crispEdges"/>
<rect x="1338" y="941" width="40" height="341.5" fill="#fff" stroke="none"/><path d="M1372 941L1378 947M1338.1 941L1378 980.9M1338 974.8L1378 1014.8M1338 1008.7L1378 1048.7M1338 1042.6L1378 1082.6M1338 1076.5L1378 1116.5M1338 1110.4L1378 1150.4M1338 1144.3L1378 1184.3M1338 1178.2L1378 1218.2M1338 1212.1L1378 1252.1M1338 1246L1374.5 1282.5M1338 1279.9L1340.6 1282.5" stroke="#000" stroke-width="1.3" fill="none"/><rect x="1338" y="941" width="40" height="341.5" fill="none" stroke="#000" stroke-width="3.8" shape-rendering="crispEdges"/>
<rect x="1378" y="875" width="41" height="407.5" fill="#fff" stroke="none"/><path d="M1378 910.5L1413.5 875M1378 944.4L1419 903.4M1378 978.3L1419 937.3M1378 1012.2L1419 971.2M1378 1046.1L1419 1005.1M1378 1080L1419 1039M1378 1113.9L1419 1072.9M1378 1147.8L1419 1106.8M1378 1181.7L1419 1140.7M1378 1215.6L1419 1174.6M1378 1249.5L1419 1208.5M1378.9 1282.5L1419 1242.4M1412.8 1282.5L1419 1276.3M1412 875L1419 882M1378.1 875L1419 915.9M1378 908.8L1419 949.8M1378 942.7L1419 983.7M1378 976.6L1419 1017.6M1378 1010.5L1419 1051.5M1378 1044.4L1419 1085.4M1378 1078.3L1419 1119.3M1378 1112.2L1419 1153.2M1378 1146.1L1419 1187.1M1378 1180L1419 1221M1378 1213.9L1419 1254.9M1378 1247.8L1412.7 1282.5M1378 1281.7L1378.8 1282.5" stroke="#000" stroke-width="1.3" fill="none"/><rect x="1378" y="875" width="41" height="407.5" fill="none" stroke="#000" stroke-width="3.8" shape-rendering="crispEdges"/>
<rect x="1419" y="986" width="40" height="296.5" fill="#fff" stroke="none"/><path d="M1430 989.5h1M1428 998.5h1M1430 1000.5h1M1428 1002.5h1M1430 1004.5h1M1428 1013.5h1M1430 1015.5h1M1428 1017.5h1M1430 1019.5h1M1428 1028.5h1M1430 1030.5h1M1428 1032.5h1M1430 1034.5h1M1428 1042.5h1M1430 1044.5h1M1428 1046.5h1M1430 1048.5h1M1428 1057.5h1M1430 1059.5h1M1428 1061.5h1M1430 1063.5h1M1428 1072.5h1M1430 1074.5h1M1428 1076.5h1M1430 1078.5h1M1428 1087.5h1M1430 1089.5h1M1428 1091.5h1M1430 1093.5h1M1428 1101.5h1M1430 1103.5h1M1428 1105.5h1M1430 1107.5h1M1428 1116.5h1M1430 1118.5h1M1428 1120.5h1M1430 1122.5h1M1428 1131.5h1M1430 1133.5h1M1428 1135.5h1M1430 1137.5h1M1428 1145.5h1M1430 1147.5h1M1428 1149.5h1M1430 1151.5h1M1428 1160.5h1M1430 1162.5h1M1428 1164.5h1M1430 1166.5h1M1428 1175.5h1M1430 1177.5h1M1428 1179.5h1M1430 1181.5h1M1428 1190.5h1M1430 1192.5h1M1428 1194.5h1M1430 1196.5h1M1428 1204.5h1M1430 1206.5h1M1428 1208.5h1M1430 1210.5h1M1428 1219.5h1M1430 1221.5h1M1428 1223.5h1M1430 1225.5h1M1428 1234.5h1M1430 1236.5h1M1428 1238.5h1M1430 1240.5h1M1428 1248.5h1M1430 1250.5h1M1428 1252.5h1M1430 1254.5h1M1428 1263.5h1M1430 1265.5h1M1428 1267.5h1M1430 1269.5h1M1428 1278.5h1M1430 1280.5h1M1445 989.5h1M1443 998.5h1M1445 1000.5h1M1443 1002.5h1M1445 1004.5h1M1443 1013.5h1M1445 1015.5h1M1443 1017.5h1M1445 1019.5h1M1443 1028.5h1M1445 1030.5h1M1443 1032.5h1M1445 1034.5h1M1443 1042.5h1M1445 1044.5h1M1443 1046.5h1M1445 1048.5h1M1443 1057.5h1M1445 1059.5h1M1443 1061.5h1M1445 1063.5h1M1443 1072.5h1M1445 1074.5h1M1443 1076.5h1M1445 1078.5h1M1443 1087.5h1M1445 1089.5h1M1443 1091.5h1M1445 1093.5h1M1443 1101.5h1M1445 1103.5h1M1443 1105.5h1M1445 1107.5h1M1443 1116.5h1M1445 1118.5h1M1443 1120.5h1M1445 1122.5h1M1443 1131.5h1M1445 1133.5h1M1443 1135.5h1M1445 1137.5h1M1443 1145.5h1M1445 1147.5h1M1443 1149.5h1M1445 1151.5h1M1443 1160.5h1M1445 1162.5h1M1443 1164.5h1M1445 1166.5h1M1443 1175.5h1M1445 1177.5h1M1443 1179.5h1M1445 1181.5h1M1443 1190.5h1M1445 1192.5h1M1443 1194.5h1M1445 1196.5h1M1443 1204.5h1M1445 1206.5h1M1443 1208.5h1M1445 1210.5h1M1443 1219.5h1M1445 1221.5h1M1443 1223.5h1M1445 1225.5h1M1443 1234.5h1M1445 1236.5h1M1443 1238.5h1M1445 1240.5h1M1443 1248.5h1M1445 1250.5h1M1443 1252.5h1M1445 1254.5h1M1443 1263.5h1M1445 1265.5h1M1443 1267.5h1M1445 1269.5h1M1443 1278.5h1M1445 1280.5h1" stroke="#000" stroke-width="1" fill="none" shape-rendering="crispEdges"/><rect x="1419" y="986" width="40" height="296.5" fill="none" stroke="#000" stroke-width="3.8" shape-rendering="crispEdges"/>
<rect x="1509" y="1137" width="42" height="145.5" fill="#fff" stroke="none"/><path d="M1521.5 1137V1282.5M1532.5 1137V1282.5M1543.5 1137V1282.5" stroke="#000" stroke-width="1" fill="none" shape-rendering="crispEdges"/><rect x="1509" y="1137" width="42" height="145.5" fill="none" stroke="#000" stroke-width="3.8" shape-rendering="crispEdges"/>
<rect x="1551" y="1002" width="39" height="280.5" fill="#fff" stroke="none"/><path d="M1551 1037.5L1586.5 1002M1551 1071.4L1590 1032.4M1551 1105.3L1590 1066.3M1551 1139.2L1590 1100.2M1551 1173.1L1590 1134.1M1551 1207L1590 1168M1551 1240.9L1590 1201.9M1551 1274.8L1590 1235.8M1577.2 1282.5L1590 1269.7" stroke="#000" stroke-width="1.3" fill="none"/><rect x="1551" y="1002" width="39" height="280.5" fill="none" stroke="#000" stroke-width="3.8" shape-rendering="crispEdges"/>
<rect x="1590" y="1136" width="41" height="146.5" fill="#fff" stroke="none"/><path d="M1624 1136L1631 1143M1590.1 1136L1631 1176.9M1590 1169.8L1631 1210.8M1590 1203.7L1631 1244.7M1590 1237.6L1631 1278.6M1590 1271.5L1601 1282.5" stroke="#000" stroke-width="1.3" fill="none"/><rect x="1590" y="1136" width="41" height="146.5" fill="none" stroke="#000" stroke-width="3.8" shape-rendering="crispEdges"/>
<rect x="1631" y="1002" width="40" height="280.5" fill="#fff" stroke="none"/><path d="M1631 1037.5L1666.5 1002M1631 1071.4L1671 1031.4M1631 1105.3L1671 1065.3M1631 1139.2L1671 1099.2M1631 1173.1L1671 1133.1M1631 1207L1671 1167M1631 1240.9L1671 1200.9M1631 1274.8L1671 1234.8M1657.2 1282.5L1671 1268.7M1665 1002L1671 1008M1631.1 1002L1671 1041.9M1631 1035.8L1671 1075.8M1631 1069.7L1671 1109.7M1631 1103.6L1671 1143.6M1631 1137.5L1671 1177.5M1631 1171.4L1671 1211.4M1631 1205.3L1671 1245.3M1631 1239.2L1671 1279.2M1631 1273.1L1640.4 1282.5" stroke="#000" stroke-width="1.3" fill="none"/><rect x="1631" y="1002" width="40" height="280.5" fill="none" stroke="#000" stroke-width="3.8" shape-rendering="crispEdges"/>
<rect x="1671" y="1075" width="40" height="207.5" fill="#fff" stroke="none"/><path d="M1681 1078.5h1M1679 1087.5h1M1681 1089.5h1M1679 1091.5h1M1681 1093.5h1M1679 1101.5h1M1681 1103.5h1M1679 1105.5h1M1681 1107.5h1M1679 1116.5h1M1681 1118.5h1M1679 1120.5h1M1681 1122.5h1M1679 1131.5h1M1681 1133.5h1M1679 1135.5h1M1681 1137.5h1M1679 1145.5h1M1681 1147.5h1M1679 1149.5h1M1681 1151.5h1M1679 1160.5h1M1681 1162.5h1M1679 1164.5h1M1681 1166.5h1M1679 1175.5h1M1681 1177.5h1M1679 1179.5h1M1681 1181.5h1M1679 1190.5h1M1681 1192.5h1M1679 1194.5h1M1681 1196.5h1M1679 1204.5h1M1681 1206.5h1M1679 1208.5h1M1681 1210.5h1M1679 1219.5h1M1681 1221.5h1M1679 1223.5h1M1681 1225.5h1M1679 1234.5h1M1681 1236.5h1M1679 1238.5h1M1681 1240.5h1M1679 1248.5h1M1681 1250.5h1M1679 1252.5h1M1681 1254.5h1M1679 1263.5h1M1681 1265.5h1M1679 1267.5h1M1681 1269.5h1M1679 1278.5h1M1681 1280.5h1M1695 1078.5h1M1693 1087.5h1M1695 1089.5h1M1693 1091.5h1M1695 1093.5h1M1693 1101.5h1M1695 1103.5h1M1693 1105.5h1M1695 1107.5h1M1693 1116.5h1M1695 1118.5h1M1693 1120.5h1M1695 1122.5h1M1693 1131.5h1M1695 1133.5h1M1693 1135.5h1M1695 1137.5h1M1693 1145.5h1M1695 1147.5h1M1693 1149.5h1M1695 1151.5h1M1693 1160.5h1M1695 1162.5h1M1693 1164.5h1M1695 1166.5h1M1693 1175.5h1M1695 1177.5h1M1693 1179.5h1M1695 1181.5h1M1693 1190.5h1M1695 1192.5h1M1693 1194.5h1M1695 1196.5h1M1693 1204.5h1M1695 1206.5h1M1693 1208.5h1M1695 1210.5h1M1693 1219.5h1M1695 1221.5h1M1693 1223.5h1M1695 1225.5h1M1693 1234.5h1M1695 1236.5h1M1693 1238.5h1M1695 1240.5h1M1693 1248.5h1M1695 1250.5h1M1693 1252.5h1M1695 1254.5h1M1693 1263.5h1M1695 1265.5h1M1693 1267.5h1M1695 1269.5h1M1693 1278.5h1M1695 1280.5h1M1708 1087.5h1M1708 1091.5h1M1708 1101.5h1M1708 1105.5h1M1708 1116.5h1M1708 1120.5h1M1708 1131.5h1M1708 1135.5h1M1708 1145.5h1M1708 1149.5h1M1708 1160.5h1M1708 1164.5h1M1708 1175.5h1M1708 1179.5h1M1708 1190.5h1M1708 1194.5h1M1708 1204.5h1M1708 1208.5h1M1708 1219.5h1M1708 1223.5h1M1708 1234.5h1M1708 1238.5h1M1708 1248.5h1M1708 1252.5h1M1708 1263.5h1M1708 1267.5h1M1708 1278.5h1" stroke="#000" stroke-width="1" fill="none" shape-rendering="crispEdges"/><rect x="1671" y="1075" width="40" height="207.5" fill="none" stroke="#000" stroke-width="3.8" shape-rendering="crispEdges"/>
<rect x="223" y="59.5" width="1513.5" height="1223" fill="none" stroke="#000" stroke-width="5.2" shape-rendering="crispEdges"/>
<rect x="1164" y="283" width="104.8" height="54" fill="#fff"/><path d="M1177.5 284.95V335.15M1189.5 284.95V335.15M1200.5 284.95V335.15M1211.5 284.95V335.15M1223.5 284.95V335.15M1234.5 284.95V335.15M1246.5 284.95V335.15M1257.5 284.95V335.15" stroke="#000" stroke-width="1" fill="none" shape-rendering="crispEdges"/><path fill="#000" fill-rule="evenodd" d="M1165 283H1267.8Q1268.8 283 1268.8 284V336Q1268.8 337 1267.8 337H1165Q1164 337 1164 336V284Q1164 283 1165 283ZM1167.2 286.9H1265.8V333.3H1167.2Z"/>
<rect x="1164" y="340" width="104.8" height="54" fill="#fff"/><path d="M1165.6 377.45L1201.1 341.95M1184.8 392.15L1235 341.95M1218.7 392.15L1267.3 343.55M1252.6 392.15L1267.3 377.45" stroke="#000" stroke-width="1.3" fill="none"/><path fill="#000" fill-rule="evenodd" d="M1165 340H1267.8Q1268.8 340 1268.8 341V393Q1268.8 394 1267.8 394H1165Q1164 394 1164 393V341Q1164 340 1165 340ZM1167.2 343.9H1265.8V390.3H1167.2Z"/>
<rect x="1164" y="398" width="104.8" height="54" fill="#fff"/><path d="M1267.4 399.95L1267.3 399.85M1233.5 399.95L1267.3 433.75M1199.6 399.95L1249.8 450.15M1165.7 399.95L1215.9 450.15M1165.6 433.75L1182 450.15" stroke="#000" stroke-width="1.3" fill="none"/><path fill="#000" fill-rule="evenodd" d="M1165 398H1267.8Q1268.8 398 1268.8 399V451Q1268.8 452 1267.8 452H1165Q1164 452 1164 451V399Q1164 398 1165 398ZM1167.2 401.9H1265.8V448.3H1167.2Z"/>
<rect x="1164" y="455" width="104.8" height="54" fill="#fff"/><path d="M1165.6 492.45L1201.1 456.95M1184.8 507.15L1235 456.95M1218.7 507.15L1267.3 458.55M1252.6 507.15L1267.3 492.45M1267.4 456.95L1267.3 456.85M1233.5 456.95L1267.3 490.75M1199.6 456.95L1249.8 507.15M1165.7 456.95L1215.9 507.15M1165.6 490.75L1182 507.15" stroke="#000" stroke-width="1.3" fill="none"/><path fill="#000" fill-rule="evenodd" d="M1165 455H1267.8Q1268.8 455 1268.8 456V508Q1268.8 509 1267.8 509H1165Q1164 509 1164 508V456Q1164 455 1165 455ZM1167.2 458.9H1265.8V505.3H1167.2Z"/>
<rect x="1164" y="513" width="104.8" height="54" fill="#fff"/><path d="M1180 518.5h1M1178 527.5h1M1180 529.5h1M1178 531.5h1M1180 533.5h1M1178 542.5h1M1180 544.5h1M1178 546.5h1M1180 548.5h1M1178 557.5h1M1180 559.5h1M1178 561.5h1M1195 518.5h1M1193 527.5h1M1195 529.5h1M1193 531.5h1M1195 533.5h1M1193 542.5h1M1195 544.5h1M1193 546.5h1M1195 548.5h1M1193 557.5h1M1195 559.5h1M1193 561.5h1M1209 518.5h1M1207 527.5h1M1209 529.5h1M1207 531.5h1M1209 533.5h1M1207 542.5h1M1209 544.5h1M1207 546.5h1M1209 548.5h1M1207 557.5h1M1209 559.5h1M1207 561.5h1M1224 518.5h1M1222 527.5h1M1224 529.5h1M1222 531.5h1M1224 533.5h1M1222 542.5h1M1224 544.5h1M1222 546.5h1M1224 548.5h1M1222 557.5h1M1224 559.5h1M1222 561.5h1M1239 518.5h1M1237 527.5h1M1239 529.5h1M1237 531.5h1M1239 533.5h1M1237 542.5h1M1239 544.5h1M1237 546.5h1M1239 548.5h1M1237 557.5h1M1239 559.5h1M1237 561.5h1M1254 518.5h1M1252 527.5h1M1254 529.5h1M1252 531.5h1M1254 533.5h1M1252 542.5h1M1254 544.5h1M1252 546.5h1M1254 548.5h1M1252 557.5h1M1254 559.5h1M1252 561.5h1" stroke="#000" stroke-width="1" fill="none" shape-rendering="crispEdges"/><path fill="#000" fill-rule="evenodd" d="M1165 513H1267.8Q1268.8 513 1268.8 514V566Q1268.8 567 1267.8 567H1165Q1164 567 1164 566V514Q1164 513 1165 513ZM1167.2 516.9H1265.8V563.3H1167.2Z"/>
<g font-family='"Liberation Serif", "Times New Roman", Times, serif' fill="#000"><text transform="translate(1280.5 325.5) scale(0.9577 1)" font-size="47.3">Control</text><text transform="translate(1280.5 382) scale(0.9577 1)" font-size="47.3">RC-7.5</text><text transform="translate(1280.5 440) scale(0.9577 1)" font-size="47.3">MRC-5</text><text transform="translate(1280.5 496.5) scale(0.9577 1)" font-size="47.3">NSC-0.5</text><text transform="translate(1280.5 555) scale(0.9577 1)" font-size="47.3">MR5N3</text><text x="197.0" y="1297" font-size="52" text-anchor="end">0</text><text x="197.0" y="991.25" font-size="52" text-anchor="end">500</text><text x="197.0" y="685.5" font-size="52" text-anchor="end">1000</text><text x="197.0" y="379.75" font-size="52" text-anchor="end">1500</text><text x="197.0" y="74" font-size="52" text-anchor="end">2000</text><text x="349.32" y="1361.5" font-size="52" text-anchor="middle">20–50</text><text x="600.58" y="1361.5" font-size="52" text-anchor="middle">50–75</text><text x="853.62" y="1361.5" font-size="52" text-anchor="middle">75–100</text><text x="1106.28" y="1361.5" font-size="52" text-anchor="middle">100–150</text><text x="1359.42" y="1361.5" font-size="52" text-anchor="middle">150–200</text><text y="1361.5" font-size="52"><tspan x="1557.7">&gt;</tspan><tspan x="1583"> </tspan><tspan x="1597.3">200</tspan></text><text x="980" y="1437" font-size="52" text-anchor="middle">Chord length (μm)</text><text transform="translate(70.5 671) rotate(-90)" font-size="52" text-anchor="middle">Number of pores</text></g>
</svg>
</body>
</html>
